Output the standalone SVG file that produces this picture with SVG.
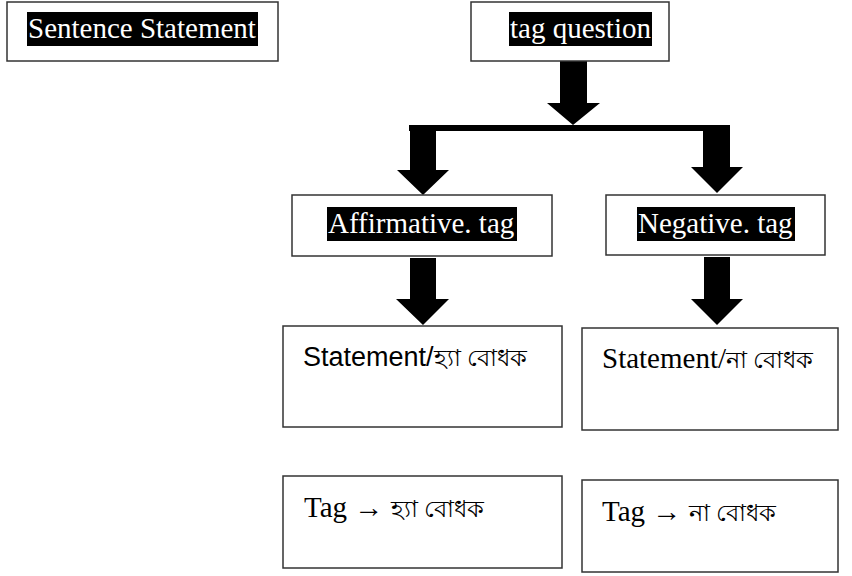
<svg xmlns="http://www.w3.org/2000/svg" width="852" height="576" viewBox="0 0 852 576">
<style>
.box{fill:#fff;stroke:#333;stroke-width:1.5}
.hl{fill:#000}
.arr{fill:#000}
.bn{font-size:24px}
</style>
<rect width="852" height="576" fill="#fff"/>
<g id="connectors">
<polygon class="arr" points="560,61 587,61 587,103 600,103 573,125 547,103 560,103"/>
<rect class="arr" x="409" y="125" width="321" height="6"/>
<polygon class="arr" points="410,125 436,125 436,170 449,170 423,195 397,170 410,170"/>
<polygon class="arr" points="703,125 730,125 730,167 743,167 717,193 691,167 703,167"/>
<polygon class="arr" points="410,258 436,258 436,299 449,299 423,325 396,299 410,299"/>
<polygon class="arr" points="704,257 730,257 730,299 743,299 717,325 691,299 704,299"/>
</g>
<g font-family="Liberation Serif, Times New Roman, serif" font-size="29" fill="#fff">
<g id="sentence-statement">
<rect class="box" x="7" y="2" width="271" height="59"/>
<rect class="hl" x="27" y="12" width="231" height="34"/>
<text x="28" y="38">Sentence Statement</text>
</g>
<g id="tag-question">
<rect class="box" x="471" y="2" width="198" height="59"/>
<rect class="hl" x="509" y="12" width="143" height="34"/>
<text x="510" y="38">tag question</text>
</g>
<g id="affirmative-tag">
<rect class="box" x="292" y="195" width="260" height="61"/>
<rect class="hl" x="327" y="207" width="190" height="34"/>
<text x="328" y="233">Affirmative. tag</text>
</g>
<g id="negative-tag">
<rect class="box" x="606" y="195" width="219" height="60"/>
<rect class="hl" x="637" y="207" width="158" height="34"/>
<text x="638" y="233">Negative. tag</text>
</g>
</g>
<g id="statement-affirmative">
<rect class="box" x="283" y="326" width="279" height="101"/>
<text x="303" y="366" font-family="Liberation Sans, Arial, sans-serif" font-size="27" fill="#000">Statement/<tspan class="bn">হ্যা বোধক</tspan></text>
</g>
<g font-family="Liberation Serif, Times New Roman, serif" font-size="29" fill="#000">
<g id="statement-negative">
<rect class="box" x="582" y="328" width="256" height="102"/>
<text x="602" y="368">Statement/<tspan class="bn">না বোধক</tspan></text>
</g>
<g id="tag-affirmative">
<rect class="box" x="283" y="476" width="279" height="92"/>
<text x="304" y="517">Tag → <tspan class="bn">হ্যা বোধক</tspan></text>
</g>
<g id="tag-negative">
<rect class="box" x="582" y="480" width="256" height="92"/>
<text x="602" y="521">Tag → <tspan class="bn">না বোধক</tspan></text>
</g>
</g>
</svg>
